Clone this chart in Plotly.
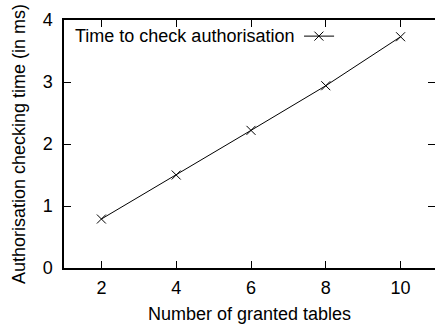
import plotly.graph_objects as go

tables = [2, 4, 6, 8, 10]
check_time_ms = [0.79, 1.50, 2.22, 2.94, 3.73]
x_ticks = [2, 4, 6, 8, 10]
y_ticks = [0, 1, 2, 3, 4]
series_name = "Time to check authorisation"
x_title = "Number of granted tables"
y_title = "Authorisation checking time (in ms)"

FONT = "Liberation Sans, Arial, sans-serif"
FS = 18

fig = go.Figure()
fig.add_trace(go.Scatter(
    x=tables, y=check_time_ms, mode="lines+markers", name=series_name,
    line=dict(color="black", width=1),
    marker=dict(symbol="x-thin-open", size=9, line=dict(color="black", width=1)),
    showlegend=False,
))
# invisible trace to create right-side mirrored y ticks without a line
fig.add_trace(go.Scatter(x=[tables[0]], y=[check_time_ms[0]], yaxis="y2",
                         mode="markers", marker=dict(opacity=0), showlegend=False,
                         hoverinfo="skip"))

fig.update_layout(
    width=435, height=324,
    margin=dict(l=64, r=0, t=20, b=56),
    paper_bgcolor="white", plot_bgcolor="white",
    font=dict(family=FONT, size=FS, color="black"),
    xaxis=dict(range=[1, 10.92], tickvals=x_ticks, ticks="inside", ticklen=7,
               tickcolor="black", showline=True, linecolor="black", linewidth=1.5,
               mirror="ticks", showgrid=False, zeroline=False,
               ticklabelstandoff=3, tickfont=dict(size=FS),
               title=dict(text=x_title, standoff=12, font=dict(size=FS))),
    yaxis=dict(range=[0, 4], tickvals=y_ticks, ticks="inside", ticklen=7,
               tickcolor="black", showline=True, linecolor="black", linewidth=1.5,
               mirror=False, showgrid=False, zeroline=False,
               ticklabelstandoff=6, tickfont=dict(size=FS),
               title=dict(text=y_title, standoff=12, font=dict(size=FS))),
    yaxis2=dict(range=[0, 4], tickvals=y_ticks, overlaying="y", side="right",
                ticks="inside", ticklen=7, tickcolor="black", showline=False,
                showticklabels=False, showgrid=False, zeroline=False),
)

# legend (gnuplot style: text then sample on the right)
ly = 0.935
fig.add_annotation(xref="paper", yref="paper", x=0.025, y=ly,
                   xanchor="left", yanchor="middle", text=series_name,
                   showarrow=False, font=dict(family=FONT, size=FS))
fig.add_shape(type="line", xref="paper", yref="paper",
              x0=0.647, x1=0.728, y0=ly, y1=ly, line=dict(color="black", width=1))
fig.add_shape(type="line", xref="paper", yref="paper", xsizemode="pixel", ysizemode="pixel",
              xanchor=0.687, yanchor=ly, x0=-4.5, x1=4.5, y0=-4.5, y1=4.5,
              line=dict(color="black", width=1))
fig.add_shape(type="line", xref="paper", yref="paper", xsizemode="pixel", ysizemode="pixel",
              xanchor=0.687, yanchor=ly, x0=-4.5, x1=4.5, y0=4.5, y1=-4.5,
              line=dict(color="black", width=1))

fig.write_html("out.html")
